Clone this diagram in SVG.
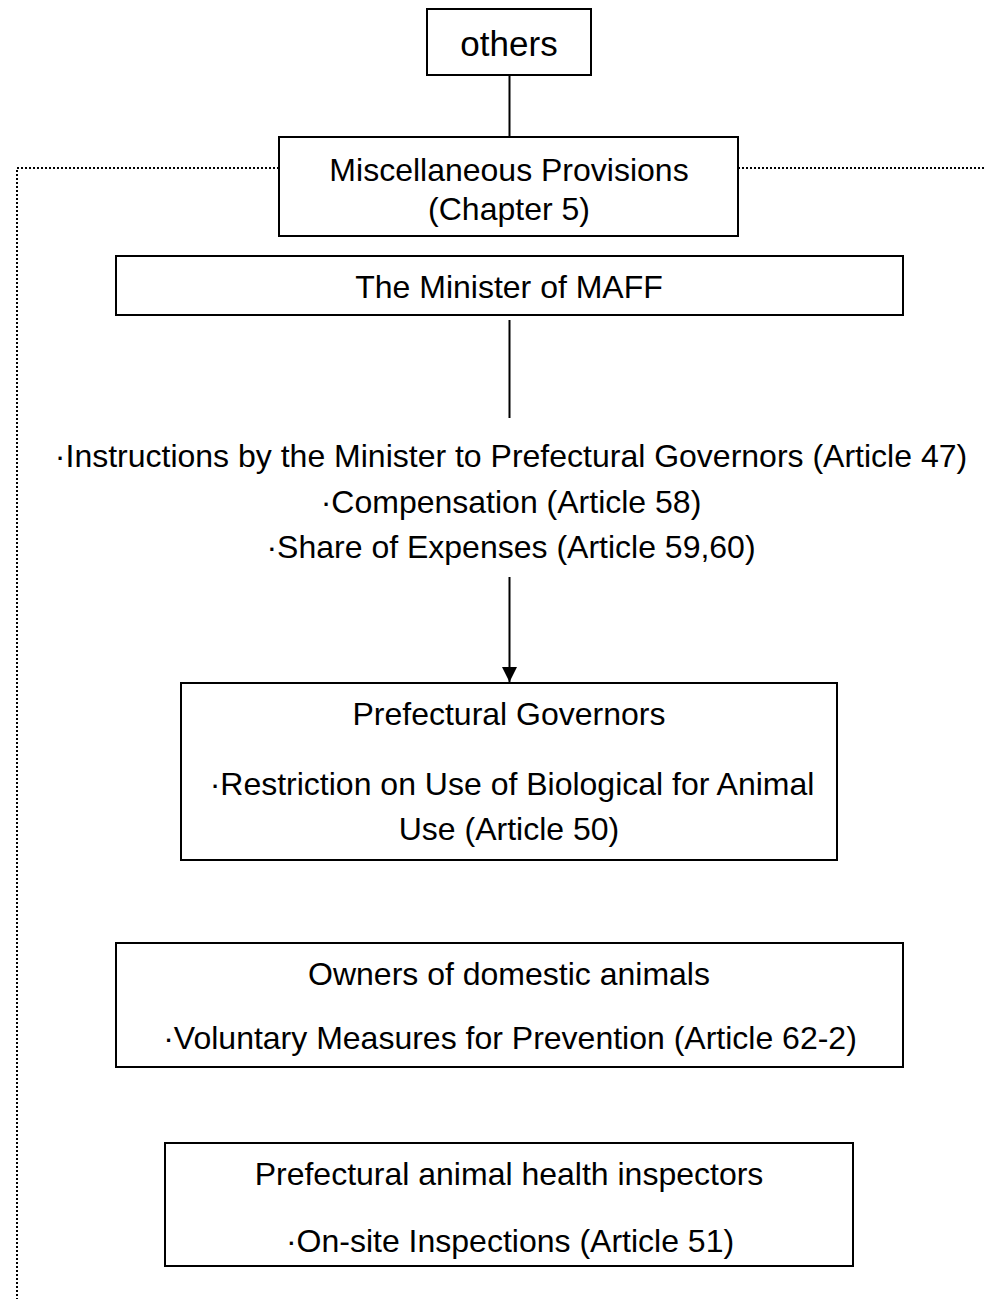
<svg xmlns="http://www.w3.org/2000/svg" width="985" height="1299" viewBox="0 0 985 1299">
<style>
  .box { fill: #ffffff; stroke: #000000; stroke-width: 2; }
  .t { font-family: "Liberation Sans", Arial, sans-serif; font-size: 32px; fill: #000000; text-anchor: middle; }
  .big { font-size: 35px; }
  .line { stroke: #000000; stroke-width: 2; fill: none; }
  .dot { stroke: #000000; stroke-width: 2; fill: none; stroke-dasharray: 2 2; }
</style>
<defs>
  <marker id="arrow" markerUnits="userSpaceOnUse" markerWidth="16" markerHeight="16" refX="15" refY="7.5" orient="auto">
    <path d="M0,0 L15,7.5 L0,15 z" fill="#000000"/>
  </marker>
</defs>
<rect x="0" y="0" width="985" height="1299" fill="#ffffff"/>

<g id="connectors">
  <path class="dot" d="M279,168 H17 V1299"/>
  <path class="dot" d="M738,168 H985"/>
  <line class="line" x1="509.5" y1="75" x2="509.5" y2="137"/>
  <line class="line" x1="509.5" y1="320" x2="509.5" y2="418"/>
  <line class="line" x1="509.5" y1="577" x2="509.5" y2="682" marker-end="url(#arrow)"/>
</g>

<g id="others">
  <rect class="box" x="427" y="9" width="164" height="66"/>
  <text class="t big" x="509" y="56">others</text>
</g>

<g id="misc">
  <rect class="box" x="279" y="137" width="459" height="99"/>
  <text class="t" x="509" y="181">Miscellaneous Provisions</text>
  <text class="t" x="509" y="220">(Chapter 5)</text>
</g>

<g id="minister">
  <rect class="box" x="116" y="256" width="787" height="59"/>
  <text class="t" x="509" y="298">The Minister of MAFF</text>
</g>

<g id="minister-items">
  <text class="t" x="511" y="467">·Instructions by the Minister to Prefectural Governors (Article 47)</text>
  <text class="t" x="511" y="513">·Compensation (Article 58)</text>
  <text class="t" x="511" y="558">·Share of Expenses (Article 59,60)</text>
</g>

<g id="governors">
  <rect class="box" x="181" y="683" width="656" height="177"/>
  <text class="t" x="509" y="725">Prefectural Governors</text>
  <text class="t" x="512" y="795">·Restriction on Use of Biological for Animal</text>
  <text class="t" x="509" y="840">Use (Article 50)</text>
</g>

<g id="owners">
  <rect class="box" x="116" y="943" width="787" height="124"/>
  <text class="t" x="509" y="985">Owners of domestic animals</text>
  <text class="t" x="510" y="1049">·Voluntary Measures for Prevention (Article 62-2)</text>
</g>

<g id="inspectors">
  <rect class="box" x="165" y="1143" width="688" height="123"/>
  <text class="t" x="509" y="1185">Prefectural animal health inspectors</text>
  <text class="t" x="510" y="1252">·On-site Inspections (Article 51)</text>
</g>
</svg>
